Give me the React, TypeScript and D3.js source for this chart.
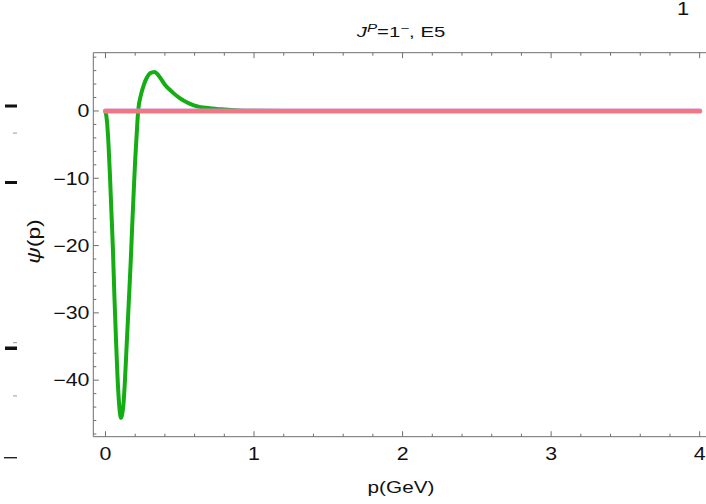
import React from "react";
import * as d3 from "d3";

const pValues = [0, 0.01, 0.02, 0.03, 0.04, 0.05, 0.06, 0.07, 0.08, 0.09, 0.1, 0.105, 0.11, 0.12, 0.13, 0.14, 0.15, 0.16, 0.17, 0.18, 0.19, 0.2, 0.21, 0.22, 0.24, 0.26, 0.28, 0.3, 0.33, 0.36, 0.4, 0.45, 0.5, 0.55, 0.6, 0.7, 0.8, 0.9, 1.0, 1.2, 1.5, 2, 3, 4];
const psiValues = [0, -1.5, -4.8, -9.5, -15, -20.5, -27.5, -33.5, -39, -43, -45.3, -45.6, -45.3, -43.8, -40.5, -36, -31.5, -27, -22.3, -17, -12, -7.3, -3.5, 0, 2.5, 4, 5, 5.6, 5.8, 5.2, 3.9, 2.8, 1.9, 1.25, 0.8, 0.42, 0.22, 0.09, 0.04, 0.01, 0, 0, 0, 0];
const zeroP = [0, 4];
const zeroPsi = [0, 0];

const xTicks = [0, 1, 2, 3, 4];
const yTicks = [0, -10, -20, -30, -40];

const W = 706;
const H = 504;
const left = 93.3;
const right = 712;
const top = 52.7;
const bottom = 436.7;
const SX = 1.22;

export default function App() {
  const x = d3.scaleLinear().domain([-0.082, 4.083]).range([left, right]);
  const y = d3.scaleLinear().domain([-48.4, 8.66]).range([bottom, top]);

  const green = d3
    .line<number>()
    .x((_, i) => x(pValues[i]))
    .y((d) => y(d))
    .curve(d3.curveMonotoneX)(psiValues) as string;
  const zero = d3
    .line<number>()
    .x((_, i) => x(zeroP[i]))
    .y((d) => y(d))(zeroPsi) as string;

  const xMinor = d3.range(0, 4.001, 0.2).map((v) => +v.toFixed(2));
  const yMinor = d3.range(-48, 9, 2);
  const font = "Liberation Sans, Arial, sans-serif";
  const frameColor = "#6e6e6e";

  return (
    <svg
      width={W}
      height={H}
      style={{ position: "absolute", left: 0, top: 0, background: "#fff" }}
      fontFamily={font}
    >
      <rect x={0} y={0} width={W} height={H} fill="#fff" />
      {/* left edge artifacts */}
      <rect x={5} y={104.5} width={12} height={3} fill="#111" />
      <rect x={13} y={132.5} width={4} height={1.2} fill="#aaa" />
      <rect x={5} y={181} width={12} height={3} fill="#111" />
      <rect x={13} y={342} width={4} height={1.2} fill="#aaa" />
      <rect x={5} y={346.5} width={12} height={3.5} fill="#111" />
      <rect x={13} y={395.3} width={4} height={1.2} fill="#aaa" />
      <rect x={4} y={457} width={13} height={1.4} fill="#222" />

      {/* frame */}
      <line x1={left} x2={right} y1={top} y2={top} stroke={frameColor} strokeWidth={1} />
      <line x1={left} x2={right} y1={bottom} y2={bottom} stroke={frameColor} strokeWidth={1} />
      <line x1={left} x2={left} y1={top} y2={bottom} stroke={frameColor} strokeWidth={1} />

      {xMinor.map((v) => {
        const major = Math.abs(v - Math.round(v)) < 1e-6;
        const len = major ? 5.5 : 3;
        return (
          <g key={"xt" + v}>
            <line x1={x(v)} x2={x(v)} y1={bottom} y2={bottom - len} stroke={frameColor} />
            <line x1={x(v)} x2={x(v)} y1={top} y2={top + len} stroke={frameColor} />
          </g>
        );
      })}
      {yMinor.map((v) => {
        const major = v % 10 === 0;
        const len = major ? 5.5 : 3;
        return (
          <line key={"yt" + v} x1={left} x2={left + len} y1={y(v)} y2={y(v)} stroke={frameColor} />
        );
      })}

      {/* curves */}
      <path d={green} fill="none" stroke="#14ad14" strokeWidth={4} strokeLinejoin="round" strokeLinecap="round" />
      <path d={zero} fill="none" stroke="#c98ad0" strokeWidth={5.2} strokeLinecap="round" />
      <path d={zero} fill="none" stroke="#f47680" strokeWidth={3.8} strokeLinecap="round" />

      {/* tick labels */}
      {xTicks.map((v) => (
        <text
          key={"xl" + v}
          transform={`translate(${x(v)},460) scale(${SX},1)`}
          fontSize={17.5}
          textAnchor="middle"
          fill="#111"
        >
          {v}
        </text>
      ))}
      {yTicks.map((v) => (
        <text
          key={"yl" + v}
          transform={`translate(89.5,${y(v) + 6.3}) scale(${SX},1)`}
          fontSize={17.5}
          textAnchor="end"
          fill="#111"
        >
          {v < 0 ? "\u2212" + Math.abs(v) : v}
        </text>
      ))}

      {/* title */}
      <text transform={`translate(401,37) scale(1.45,1)`} fontSize={14} textAnchor="middle" fill="#111">
        <tspan fontStyle="italic">J</tspan>
        <tspan fontStyle="italic" fontSize={10.5} dy={-5.5}>P</tspan>
        <tspan dy={5.5}>=1</tspan>
        <tspan fontSize={10.5} dy={-5.5}>{"\u2212"}</tspan>
        <tspan dy={5.5}>, E5</tspan>
      </text>
      <text transform={`translate(683,15) scale(${SX},1)`} fontSize={18} textAnchor="middle" fill="#111">1</text>

      {/* axis labels */}
      <text transform={`translate(401,493) scale(${SX},1)`} fontSize={17} textAnchor="middle" fill="#111">
        p(GeV)
      </text>
      <text
        transform={`translate(40,241.5) rotate(-90) scale(1.2,1)`}
        fontSize={19}
        textAnchor="middle"
        fill="#111"
      >
        <tspan fontStyle="italic">{"\u03c8"}</tspan>(p)
      </text>
    </svg>
  );
}
